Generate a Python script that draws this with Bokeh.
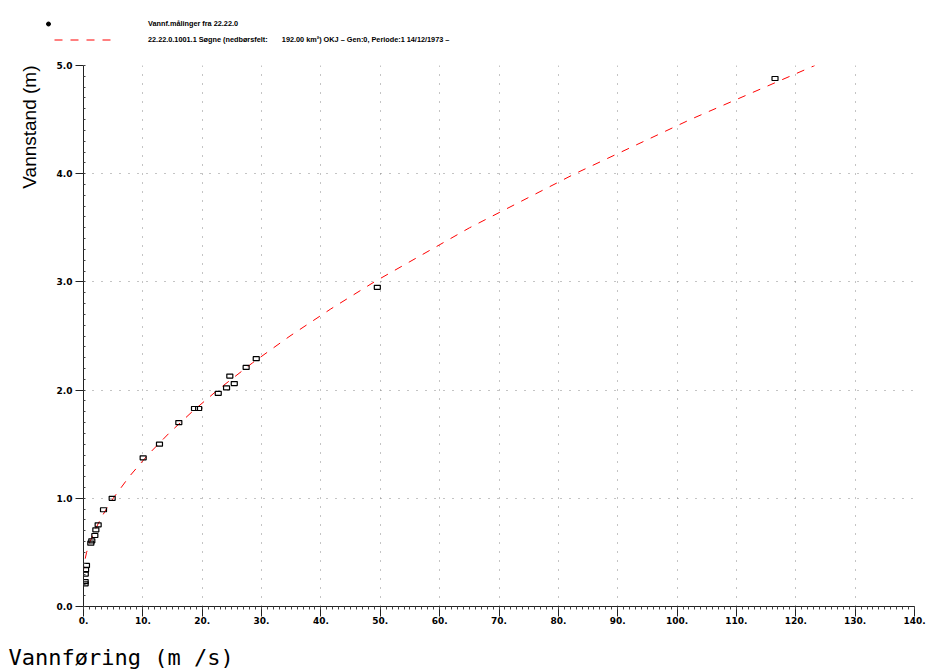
from bokeh.plotting import figure
from bokeh.layouts import column
from bokeh.models import (Range1d, SingleIntervalTicker, PrintfTickFormatter,
                          Label, Legend, LegendItem, Title)
from bokeh.embed import file_html
from bokeh.resources import INLINE

# Measurements: discharge (m3/s) and stage (m)
q_meas = [116.5, 49.5, 29.1, 27.4, 24.65, 25.4, 24.1, 22.7, 19.4, 18.7, 16.06, 12.8, 10.05,
          4.83, 3.37, 2.47, 2.08, 1.91, 1.40, 1.23, 0.50, 0.35, 0.30, 0.28, 0.28]
h_meas = [4.88, 2.95, 2.29, 2.21, 2.13, 2.06, 2.02, 1.97, 1.83, 1.83, 1.70, 1.50, 1.374,
          1.00, 0.894, 0.755, 0.709, 0.656, 0.607, 0.585, 0.38, 0.34, 0.30, 0.23, 0.21]

# Rating curve
h_curve = [0.0, 0.33, 0.4, 0.5, 0.6, 0.7, 0.8, 0.9, 1.0, 1.2, 1.4, 1.6, 1.8, 2.0, 2.25,
           2.5, 2.75, 3.0, 3.5, 4.0, 4.5, 5.0]
q_curve = [0.0, 0.0, 0.12, 0.52, 1.12, 1.88, 2.79, 3.83, 5.00, 7.70, 10.83, 14.38, 18.30,
           22.58, 28.43, 34.79, 41.66, 48.99, 65.03, 82.80, 102.2, 123.2]

legend_meas = "Vannf.målinger fra 22.22.0"
legend_curve = ("22.22.0.1001.1 Søgne (nedbørsfelt:\u00a0\u00a0\u00a0\u00a0\u00a0\u00a0 192.00 km²) "
                "OKJ – Gen:0, Periode:1 14/12/1973 –")
x_title = "Vannføring (m /s)"
y_title = "Vannstand (m)"

CURVE_STYLE = dict(line_color="#ff0000", line_width=1, line_dash="8 8")

# ---- legend strip (top); its ranges exclude the data so only the legend shows ----
lf = figure(width=926, height=55, x_range=Range1d(-2, -1), y_range=Range1d(-2, -1),
            output_backend="svg", toolbar_location=None, x_axis_type=None, y_axis_type=None,
            min_border=0, outline_line_color=None, background_fill_color="white",
            border_fill_color="white", frame_align=False)
lf.xgrid.visible = False
lf.ygrid.visible = False
dot = lf.scatter(q_meas, h_meas, marker="circle", fill_color="black", line_color="black")
curve_leg = lf.line(q_curve, h_curve, **CURVE_STYLE)

leg_common = dict(padding=0, margin=0, spacing=0, border_line_alpha=0, background_fill_alpha=0,
                  glyph_height=17, label_height=17, label_text_font="Liberation Sans",
                  label_text_font_style="bold", label_text_font_size="7.3px",
                  label_text_color="black", label_text_baseline="middle")
leg1 = Legend(items=[LegendItem(label=legend_meas, renderers=[dot])], location=(43, 23),
              glyph_width=10, label_standoff=95, **leg_common)
leg2 = Legend(items=[LegendItem(label=legend_curve, renderers=[curve_leg])], location=(54, 7),
              glyph_width=62, label_standoff=32, **leg_common)
lf.add_layout(leg1)
lf.add_layout(leg2)

# ---- main plot ----
p = figure(width=926, height=586, x_range=Range1d(0, 140), y_range=Range1d(0, 5),
           output_backend="svg", toolbar_location=None,
           min_border_left=83, min_border_right=12, min_border_top=10, min_border_bottom=35,
           outline_line_color=None, background_fill_color="white", border_fill_color="white",
           frame_align=False)

for ax in (p.xaxis[0], p.yaxis[0]):
    ax.axis_line_color = "#222222"
    ax.major_tick_line_color = "#222222"
    ax.minor_tick_line_color = "#444444"
    ax.major_label_text_font = "DejaVu Sans"
    ax.major_label_text_font_style = "bold"
    ax.major_label_text_font_size = "9px"
    ax.major_label_text_color = "black"

p.xaxis.ticker = SingleIntervalTicker(interval=10, num_minor_ticks=10)
p.yaxis.ticker = SingleIntervalTicker(interval=1, num_minor_ticks=10)
p.xaxis.formatter = PrintfTickFormatter(format="%d.")
p.yaxis.formatter = PrintfTickFormatter(format="%.1f")
p.xaxis.major_tick_out = 10
p.xaxis.major_tick_in = 0
p.xaxis.minor_tick_out = 3
p.xaxis.minor_tick_in = 0
p.xaxis.major_label_standoff = 0
p.yaxis.major_tick_out = 8
p.yaxis.major_tick_in = 0
p.yaxis.minor_tick_out = 0
p.yaxis.minor_tick_in = 2
p.yaxis.major_label_standoff = 3

p.xgrid.grid_line_color = "#888888"
p.ygrid.grid_line_color = "#888888"
p.xgrid.grid_line_dash = "1 8"
p.ygrid.grid_line_dash = "1 8"

p.line(q_curve, h_curve, **CURVE_STYLE)
p.rect(q_meas, h_meas, width=6, height=4, width_units="screen", height_units="screen",
       fill_color=None, line_color="black", line_width=1.2)

p.add_layout(Title(text=y_title, align="right", vertical_align="middle",
                   text_font="Liberation Sans", text_font_style="normal",
                   text_font_size="19px", text_color="black", standoff=26), "left")

# ---- x title strip (bottom) ----
bf = figure(width=926, height=30, x_range=Range1d(0, 1), y_range=Range1d(0, 1),
            output_backend="svg", toolbar_location=None, x_axis_type=None, y_axis_type=None,
            min_border=0, outline_line_color=None, background_fill_color="white",
            border_fill_color="white", frame_align=False)
bf.xgrid.visible = False
bf.ygrid.visible = False
bf.add_layout(Label(x=8, y=27, x_units="screen", y_units="screen", text=x_title,
                    text_align="left", text_baseline="top", text_font="DejaVu Sans Mono",
                    text_font_size="22px", text_color="black"))

layout = column(lf, p, bf, spacing=0)
open("out.html", "w").write(file_html(layout, INLINE))
